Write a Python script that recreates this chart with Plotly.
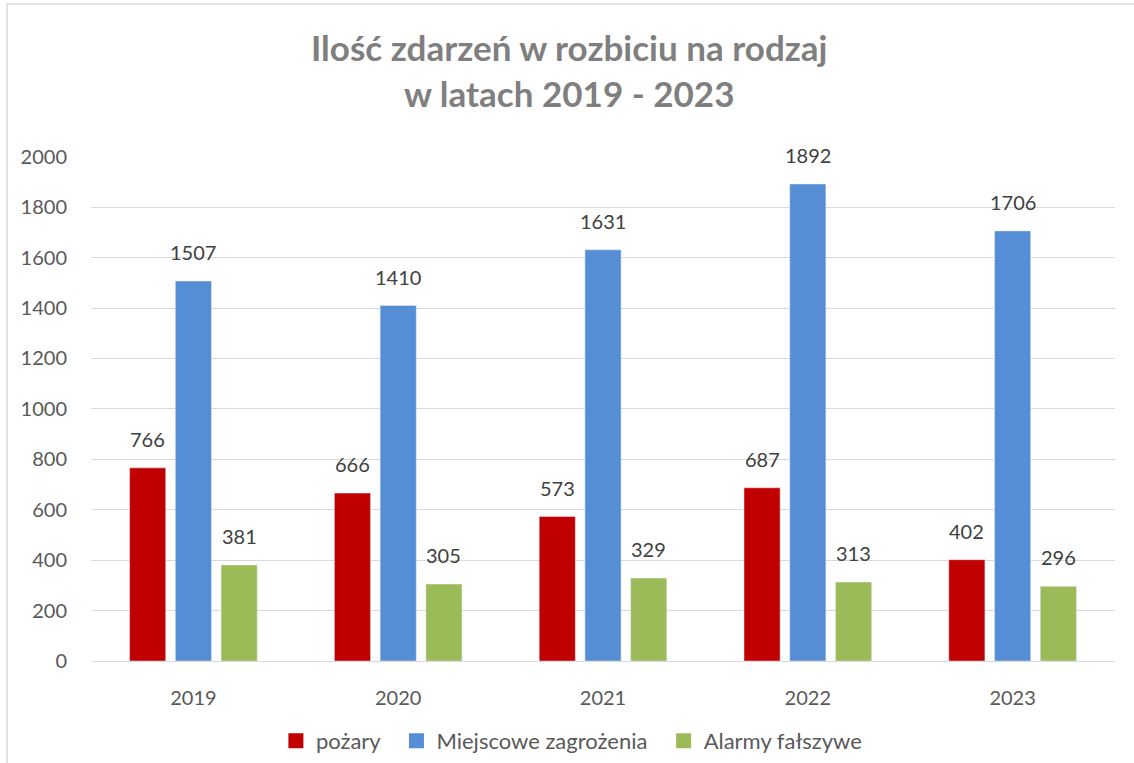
import plotly.graph_objects as go

YEARS = ["2019", "2020", "2021", "2022", "2023"]
POZARY = [766, 666, 573, 687, 402]
MIEJSCOWE = [1507, 1410, 1631, 1892, 1706]
ALARMY = [381, 305, 329, 313, 296]

SERIES = [
    ("pożary", POZARY, "#C00000"),
    ("Miejscowe zagrożenia", MIEJSCOWE, "#558ED5"),
    ("Alarmy fałszywe", ALARMY, "#9BBB59"),
]

TITLE_LINES = ["Ilość zdarzeń w rozbiciu na rodzaj", "w latach 2019 - 2023"]

FONT = "Lato, 'Open Sans', sans-serif"
PAD = "\u00a0\u00a0"

fig = go.Figure()
for name, values, color in SERIES:
    fig.add_trace(
        go.Bar(x=YEARS, y=values, name=name, marker_color=color, showlegend=False)
    )
# legend entries with bigger square swatches
for name, values, color in SERIES:
    fig.add_trace(
        go.Scatter(
            x=[None], y=[None], mode="markers", name=name + PAD,
            marker=dict(symbol="square", size=15, color=color),
        )
    )

# value labels above bars, lifted a bit like the original
# (category index as x: numeric-looking names would be read as indices)
slot = 1024 / len(YEARS) * (1 - 0.33) / len(SERIES)
for i, (name, values, color) in enumerate(SERIES):
    for k, v in enumerate(values):
        fig.add_annotation(
            x=k, y=v, text=str(v), showarrow=False,
            xshift=(i - 1) * slot, yshift=15, yanchor="bottom",
            font=dict(family=FONT, size=20, color="#404040"),
        )

# two title lines placed separately to get Excel's wider line spacing
for line, ypos in zip(TITLE_LINES, (1.216, 1.125)):
    fig.add_annotation(
        xref="paper", yref="paper", x=0.467, y=ypos, yanchor="middle",
        text=f"<b>{line}</b>", showarrow=False,
        font=dict(family=FONT, size=35, color="#7F7F7F"),
    )

fig.add_shape(
    type="rect", xref="paper", yref="paper",
    x0=-0.082, x1=1.2, y0=-0.4, y1=1.301,
    line=dict(color="#D9D9D9", width=1.5),
)

fig.update_layout(
    width=1134,
    height=763,
    margin=dict(l=91, r=19, t=156, b=102, autoexpand=False),
    paper_bgcolor="white",
    plot_bgcolor="white",
    barmode="group",
    bargap=0.33,
    bargroupgap=0.21,
    showlegend=True,
    legend=dict(
        orientation="h", x=0.475, xanchor="center",
        yref="container", y=0.029, yanchor="middle",
        font=dict(family=FONT, size=22, color="#595959"),
        itemwidth=30, traceorder="normal",
    ),
    font=dict(family=FONT, color="#595959"),
)
fig.update_xaxes(
    type="category", range=[-0.5, len(YEARS) - 0.5], automargin=False,
    showgrid=False, showline=False, ticks="", ticklabelstandoff=23,
    tickfont=dict(family=FONT, size=20, color="#595959"),
)
fig.update_yaxes(
    range=[0, 2003], dtick=200, gridcolor="#D9D9D9", gridwidth=1.2,
    zeroline=True, zerolinecolor="#D9D9D9", zerolinewidth=1.2, automargin=False,
    showline=False, ticks="", ticklabelstandoff=23,
    tickfont=dict(family=FONT, size=20, color="#595959"),
)

# drop the default 8px body margin so the chart sits flush in the window
fig.write_html(
    "out.html",
    config={"displayModeBar": False},
    post_script="document.body.style.margin='0';",
)
